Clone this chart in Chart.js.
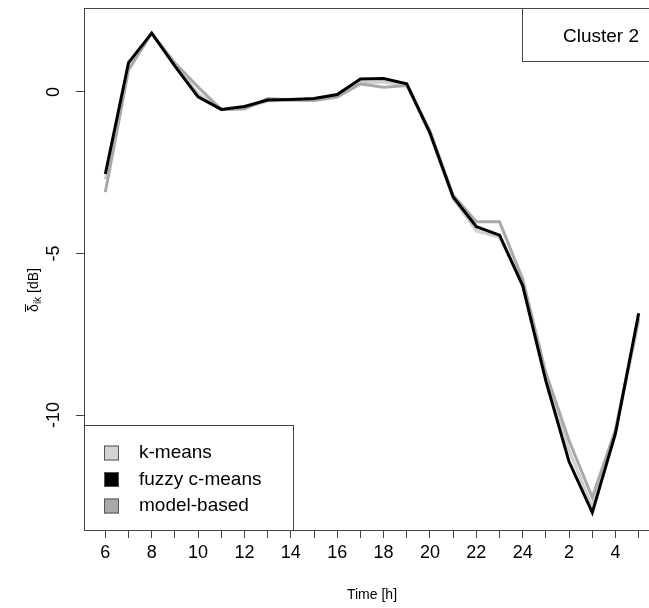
<!DOCTYPE html>
<html>
<head>
<meta charset="utf-8">
<script src="https://cdn.jsdelivr.net/npm/chart.js@4.4.1/dist/chart.umd.min.js"></script>
<style>
  html, body { margin: 0; padding: 0; background: #fff; overflow: hidden; }
  canvas { display: block; }
</style>
</head>
<body>
<canvas id="clusterChart" width="680" height="608"></canvas>
<script>
// hours of the day, starting at 6 in the morning and wrapping past midnight
const hourLabels = ['6','7','8','9','10','11','12','13','14','15','16','17',
                    '18','19','20','21','22','23','24','1','2','3','4','5'];

const kMeans = [-2.7, 0.8, 1.82, 0.85, -0.05, -0.55, -0.5, -0.28, -0.25, -0.25, -0.12, 0.3,
                0.3, 0.22, -1.3, -3.3, -4.3, -4.5, -5.95, -8.85, -11.1, -12.85, -10.5, -7.1];
const fuzzyCMeans = [-2.54, 0.91, 1.82, 0.8, -0.15, -0.54, -0.45, -0.25, -0.23, -0.2, -0.08, 0.4,
                     0.42, 0.25, -1.27, -3.25, -4.17, -4.43, -6.0, -8.95, -11.45, -13.02, -10.57, -6.85];
const modelBased = [-3.1, 0.68, 1.82, 0.9, 0.15, -0.54, -0.53, -0.2, -0.25, -0.26, -0.16, 0.25,
                    0.15, 0.2, -1.2, -3.2, -4.02, -4.02, -5.8, -8.7, -10.8, -12.55, -10.45, -7.0];

const yTicks = [0, -5, -10];

const seriesNames = ['k-means', 'fuzzy c-means', 'model-based'];
const swatchColors = ['#d3d3d3', '#000000', '#a9a9a9'];
const clusterTitle = 'Cluster 2';

const FONT = '"Liberation Sans", Arial, sans-serif';
const AXIS_COLOR = '#444';

const toPoints = arr => arr.map((v, i) => ({ x: i, y: v }));

// R-like decorations: box, rotated y labels, y title, legends
const rStyle = {
  id: 'rStyle',
  afterDatasetsDraw(chart) {
    const { ctx, chartArea: a, scales } = chart;
    const y = scales.y;
    ctx.save();

    // plot frame
    ctx.strokeStyle = AXIS_COLOR;
    ctx.lineWidth = 1;
    ctx.strokeRect(a.left + 0.5, a.top + 0.5, a.right - a.left, a.bottom - a.top);

    // y tick labels, parallel to the axis
    ctx.fillStyle = '#000';
    ctx.font = '18px ' + FONT;
    ctx.textAlign = 'center';
    ctx.textBaseline = 'middle';
    yTicks.forEach(v => {
      ctx.save();
      ctx.translate(a.left - 30, y.getPixelForValue(v));
      ctx.rotate(-Math.PI / 2);
      ctx.fillText(String(v), 0, 0);
      ctx.restore();
    });

    // y axis title: overlined delta with subscript ik
    ctx.save();
    ctx.translate(a.left - 51, (a.top + a.bottom) / 2 + 21);
    ctx.rotate(-Math.PI / 2);
    ctx.textBaseline = 'alphabetic';
    ctx.textAlign = 'left';
    const big = '14px ' + FONT, small = '10px ' + FONT;
    ctx.font = big;
    const wD = ctx.measureText('\u03b4').width;
    ctx.font = small;
    const wS = ctx.measureText('ik').width;
    ctx.font = big;
    const wT = ctx.measureText(' [dB]').width;
    let x0 = -(wD + wS + wT) / 2;
    ctx.fillText('\u03b4', x0, 5);
    ctx.beginPath();
    ctx.moveTo(x0, -7.5);
    ctx.lineTo(x0 + wD, -7.5);
    ctx.strokeStyle = '#000';
    ctx.lineWidth = 1;
    ctx.stroke();
    ctx.font = small;
    ctx.fillText('ik', x0 + wD, 8);
    ctx.font = big;
    ctx.fillText(' [dB]', x0 + wD + wS, 5);
    ctx.restore();

    // series legend, bottom-left
    const lx = a.left, ly = 425, lw = 209, lh = a.bottom - ly;
    ctx.fillStyle = '#fff';
    ctx.fillRect(lx, ly, lw, lh);
    ctx.strokeStyle = AXIS_COLOR;
    ctx.strokeRect(lx + 0.5, ly + 0.5, lw, lh);
    ctx.font = '19px ' + FONT;
    ctx.textAlign = 'left';
    ctx.textBaseline = 'middle';
    seriesNames.forEach((name, i) => {
      const cy = ly + 28 + i * 26.5;
      ctx.fillStyle = swatchColors[i];
      ctx.fillRect(lx + 20, cy - 7.5, 15, 15);
      ctx.strokeStyle = '#555';
      ctx.strokeRect(lx + 20.5, cy - 7, 14, 14);
      ctx.fillStyle = '#000';
      ctx.fillText(name, lx + 55, cy);
    });

    // cluster name box, top-right
    const cx = 522, cyTop = a.top, ch = 53;
    ctx.fillStyle = '#fff';
    ctx.fillRect(cx, cyTop, a.right - cx, ch);
    ctx.strokeStyle = AXIS_COLOR;
    ctx.strokeRect(cx + 0.5, cyTop + 0.5, a.right - cx, ch);
    ctx.fillStyle = '#000';
    ctx.font = '19px ' + FONT;
    ctx.fillText(clusterTitle, cx + 41, cyTop + 29);

    ctx.restore();
  }
};

const lineStyle = (color, order) => ({
  borderColor: color,
  backgroundColor: color,
  borderWidth: 3,
  pointRadius: 0,
  fill: false,
  tension: 0,
  order: order
});

new Chart(document.getElementById('clusterChart'), {
  type: 'line',
  data: {
    datasets: [
      { label: seriesNames[0], data: toPoints(kMeans), ...lineStyle('#cfcfcf', 3) },
      { label: seriesNames[2], data: toPoints(modelBased), ...lineStyle('#a9a9a9', 2) },
      { label: seriesNames[1], data: toPoints(fuzzyCMeans), ...lineStyle('#000000', 1) }
    ]
  },
  options: {
    responsive: false,
    animation: false,
    layout: { padding: { top: 8, right: 20, left: 0, bottom: 0 } },
    plugins: { legend: { display: false }, tooltip: { enabled: false } },
    scales: {
      x: {
        type: 'linear',
        min: -0.92,
        max: 23.92,
        afterBuildTicks: s => { s.ticks = hourLabels.map((_, i) => ({ value: i })); },
        afterFit: s => { s.height = 78; },
        border: { display: false },
        grid: { drawOnChartArea: false, drawTicks: true, tickLength: 8, color: AXIS_COLOR },
        ticks: {
          autoSkip: false,
          maxRotation: 0,
          padding: 4,
          color: '#000',
          font: { family: FONT, size: 18 },
          callback: v => (v % 2 === 0 ? hourLabels[v] : '')
        },
        title: {
          display: true,
          text: 'Time [h]',
          color: '#000',
          font: { family: FONT, size: 14 },
          padding: { top: 13 }
        }
      },
      y: {
        min: -13.56,
        max: 2.6,
        afterBuildTicks: s => { s.ticks = yTicks.map(v => ({ value: v })); },
        afterFit: s => { s.width = 84; },
        border: { display: false },
        grid: { drawOnChartArea: false, drawTicks: true, tickLength: 8, color: AXIS_COLOR },
        ticks: { display: false }
      }
    }
  },
  plugins: [rStyle]
});
</script>
</body>
</html>
